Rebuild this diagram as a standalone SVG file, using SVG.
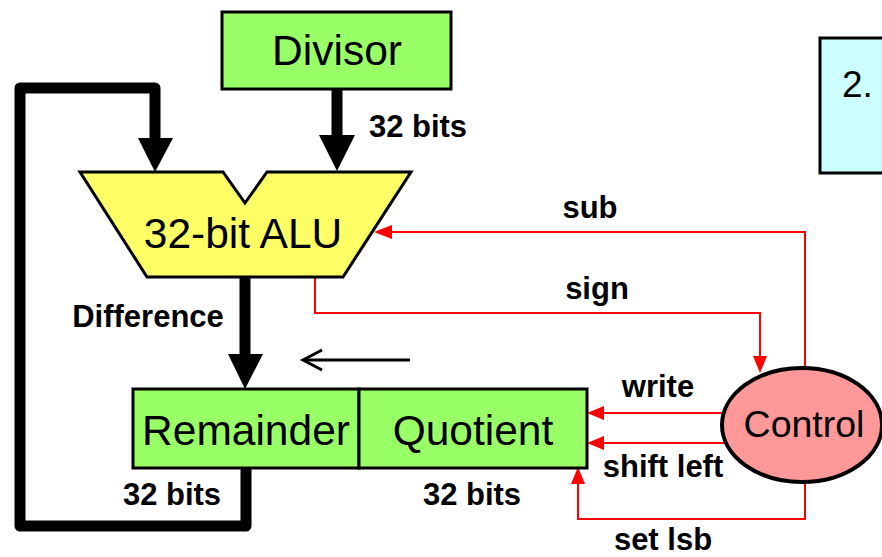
<svg xmlns="http://www.w3.org/2000/svg" width="882" height="557" viewBox="0 0 882 557">
<defs>
<style>
.big{font-family:"Liberation Sans",Arial,sans-serif;font-size:42.5px;fill:#000;text-anchor:middle}
.lbl{font-family:"Liberation Sans",Arial,sans-serif;font-size:31px;font-weight:bold;fill:#000;text-anchor:middle}
.bus{fill:none;stroke:#000;stroke-width:11;stroke-linejoin:round}
.ctl{fill:none;stroke:#ff0000;stroke-width:2}
.redhead{fill:#ff0000}
.head{fill:#000}
</style>
</defs>
<rect width="882" height="557" fill="#fff"/>
<g id="info-box">
<rect x="820" y="38" width="70" height="135" fill="#ccffff" stroke="#000" stroke-width="3"/>
<text x="842" y="97" font-family="Liberation Sans, Arial, sans-serif" font-size="37" fill="#000">2.</text>
</g>
<g id="connectors">
<path class="bus" d="M246 468 V526 H20 V88 H155 V140"/>
<polygon class="head" points="138,138 173,138 155,172"/>
<line x1="337" y1="89" x2="337" y2="137" stroke="#000" stroke-width="11"/>
<polygon class="head" points="319,135 355,135 337,171"/>
<line x1="245" y1="277" x2="245" y2="356" stroke="#000" stroke-width="11"/>
<polygon class="head" points="228,354 263,354 245,389"/>
<line x1="410" y1="360" x2="304" y2="360" stroke="#000" stroke-width="3"/>
<polyline points="322,350 303,360 322,370" fill="none" stroke="#000" stroke-width="3"/>
<path class="ctl" d="M805 367 V232 H390"/>
<polygon class="redhead" points="374,232 392,225 392,239"/>
<path class="ctl" d="M315 277 V313 H760 V357"/>
<polygon class="redhead" points="760,373 753,356 767,356"/>
<line class="ctl" x1="722" y1="413" x2="600" y2="413"/>
<polygon class="redhead" points="587,413 604,406 604,420"/>
<line class="ctl" x1="726" y1="443" x2="600" y2="443"/>
<polygon class="redhead" points="587,443 604,436 604,450"/>
<path class="ctl" d="M805 482 V519 H578 V482"/>
<polygon class="redhead" points="578,467 571,484 585,484"/>
</g>
<g id="divisor">
<rect x="222" y="12" width="229" height="77" fill="#99ff66" stroke="#000" stroke-width="3"/>
<text class="big" x="337" y="65">Divisor</text>
</g>
<g id="alu">
<polygon points="80,172 223,172 245,203 267,172 411,172 343,277 147,277" fill="#ffff66" stroke="#000" stroke-width="3" stroke-linejoin="miter"/>
<text class="big" x="243" y="248">32-bit ALU</text>
</g>
<g id="remainder">
<rect x="133" y="389" width="226" height="79" fill="#99ff66" stroke="#000" stroke-width="3"/>
<text class="big" x="246" y="445">Remainder</text>
</g>
<g id="quotient">
<rect x="359" y="389" width="228" height="79" fill="#99ff66" stroke="#000" stroke-width="3"/>
<text class="big" x="473" y="445">Quotient</text>
</g>
<g id="control">
<ellipse cx="802" cy="425" rx="80" ry="57" fill="#ff9999" stroke="#000" stroke-width="4"/>
<text x="804" y="437" font-family="Liberation Sans, Arial, sans-serif" font-size="37.5" fill="#000" text-anchor="middle">Control</text>
</g>
<g id="labels">
<text class="lbl" x="418" y="137">32 bits</text>
<text class="lbl" x="590" y="218">sub</text>
<text class="lbl" x="597" y="299">sign</text>
<text class="lbl" x="148" y="327">Difference</text>
<text class="lbl" x="658" y="397">write</text>
<text class="lbl" x="663" y="477">shift left</text>
<text class="lbl" x="172" y="505">32 bits</text>
<text class="lbl" x="472" y="505">32 bits</text>
<text class="lbl" x="663" y="550">set lsb</text>
</g>
</svg>
